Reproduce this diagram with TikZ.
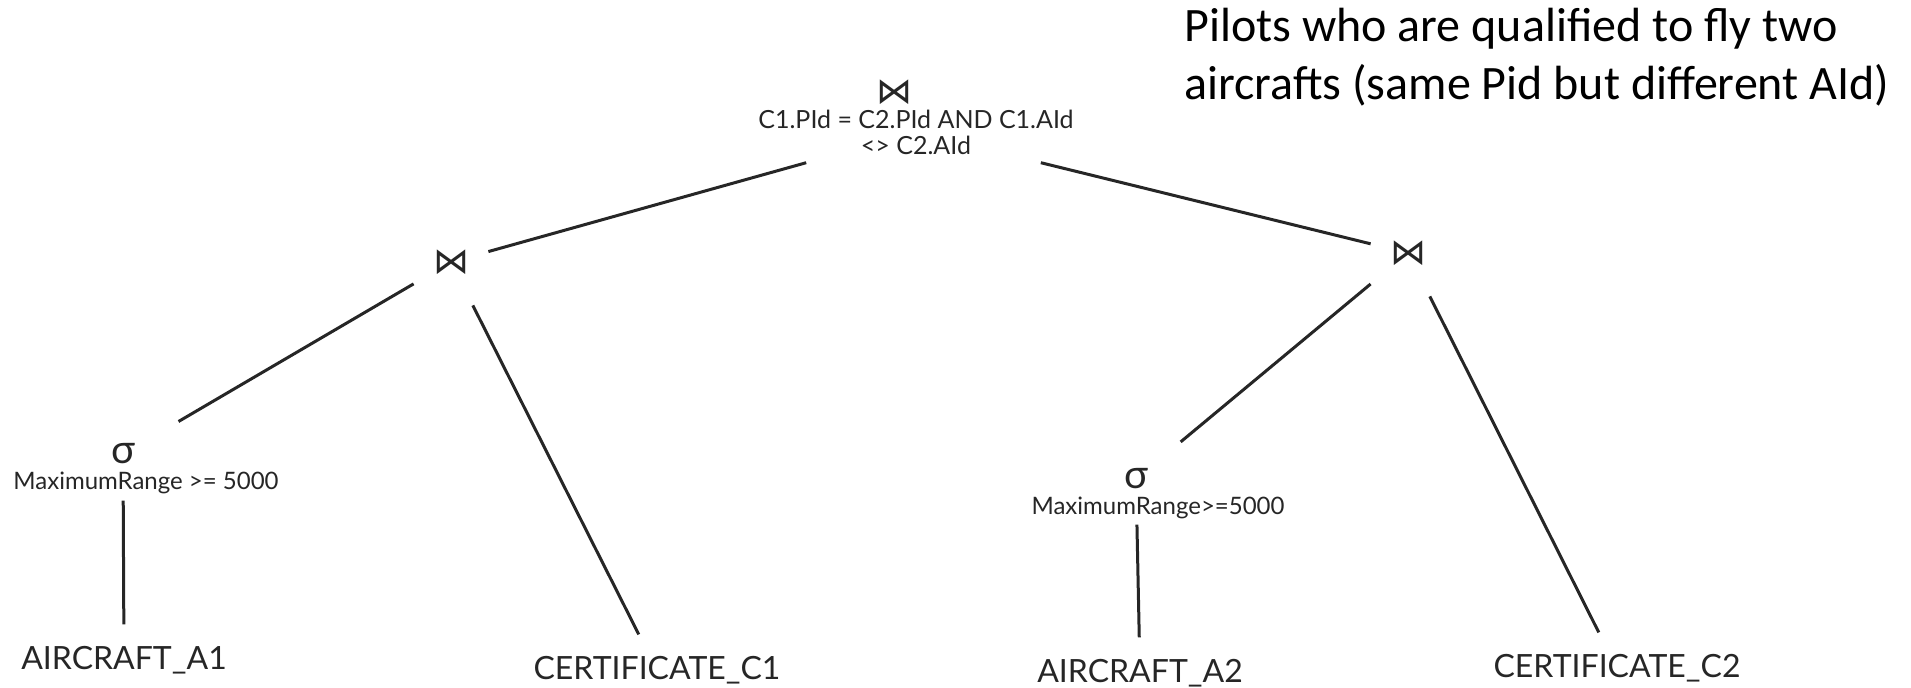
\documentclass[tikz,border=0pt]{standalone}
\usepackage{fontspec}
\setmainfont{Lato}
\newfontfamily\titlefont{Carlito}
\newfontfamily\joinfont{DejaVu Sans}

\tikzset{
  edge/.style={line width=1.5pt, color=black!85},
  joinop/.style={font=\joinfont\fontsize{18}{18}\selectfont, color=black!85,
    minimum width=37pt, minimum height=43pt, inner sep=0pt},
  selop/.style={font=\fontsize{20}{20}\selectfont, color=black!85, inner sep=0pt},
  cond/.style={font=\fontsize{12}{13}\selectfont, color=black!85, align=center, inner sep=0pt},
  relation/.style={font=\fontsize{16}{16}\selectfont, color=black!85, anchor=base,
    inner xsep=0pt, inner ysep=11pt},
}

\begin{document}
\begin{tikzpicture}[x=0.5pt, y=-0.5pt]
\useasboundingbox (0,0) rectangle (1911,688);
% question
\node[anchor=base west, inner sep=0pt, align=left,
  font=\titlefont\fontsize{24}{29}\selectfont] (question) at (1184,100)
{Pilots who are qualified to fly two\\aircrafts (same Pid but different AId)};
%
% top join
\node[font=\joinfont\fontsize{18}{18}\selectfont, color=black!85, inner sep=0pt] (topj) at (894,92) {⋈};
\node[cond, font=\fontsize{12.5}{13}\selectfont, inner sep=4pt] (topc) at (916,132) {C1.PId = C2.PId AND C1.AId\\<> C2.AId};
%
% joins below
\node[joinop] (leftj) at (451,262) {⋈};
\node[joinop] (rightj) at (1408,253) {⋈};
%
% selections
\node[selop] (sig1) at (123,454) {σ};
\node[cond, anchor=base] (cond1) at (146,490) {MaximumRange >= 5000};
\node[selop] (sig2) at (1136,479) {σ};
\node[cond, anchor=base] (cond2) at (1158,515) {MaximumRange>=5000};
%
% relations
\node[relation] (airA1) at (124,670) {AIRCRAFT\_A1};
\node[relation] (certC1) at (657,680) {CERTIFICATE\_C1};
\node[relation] (airA2) at (1140,683) {AIRCRAFT\_A2};
\node[relation] (certC2) at (1617,678) {CERTIFICATE\_C2};
%
\draw[edge] (topc) -- (leftj);
\draw[edge] (topc) -- (rightj);
\draw[edge, shorten >=25pt] (leftj) -- (sig1);
\draw[edge] (leftj) -- (certC1);
\draw[edge, shorten >=21pt] (rightj) -- (sig2);
\draw[edge] (rightj) -- (certC2);
\draw[edge, shorten <=18pt] (sig1) -- (airA1);
\draw[edge, shorten <=17.5pt] (sig2) -- (airA2);
\end{tikzpicture}
\end{document}
